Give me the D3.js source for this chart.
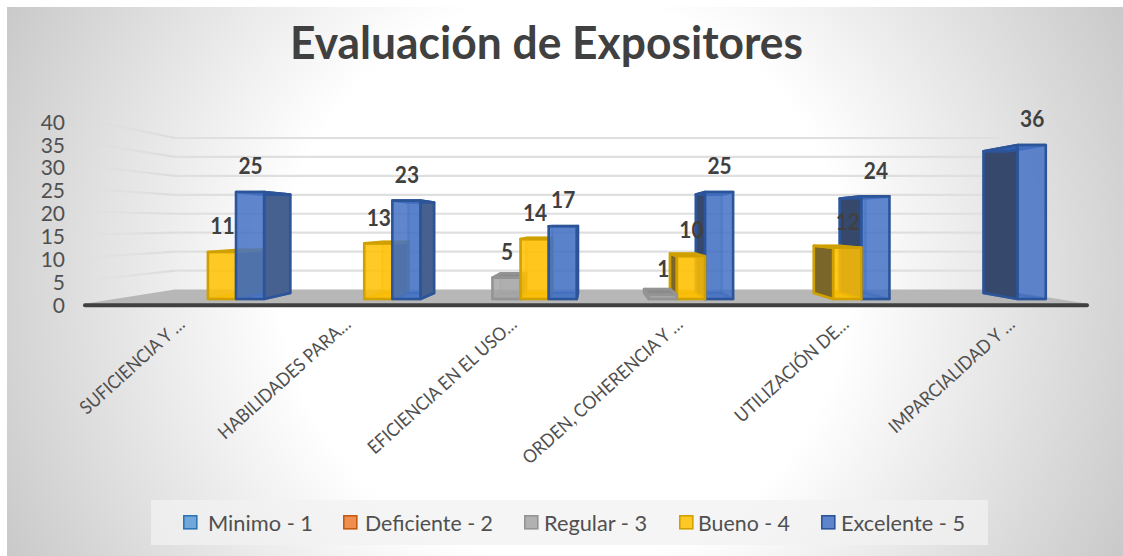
<!DOCTYPE html>
<html><head><meta charset="utf-8">
<script src="https://cdn.jsdelivr.net/npm/d3@7"></script>
<style>html,body{margin:0;padding:0;background:#fff;overflow:hidden}svg{display:block}text{font-family:Lato,"Open Sans",sans-serif}</style>
</head><body><svg id="c" width="1123" height="556"></svg>
<script>
const categories=["SUFICIENCIA Y …","HABILIDADES PARA…","EFICIENCIA EN EL USO…","ORDEN, COHERENCIA Y …","UTILIZACIÓN DE…","IMPARCIALIDAD Y …"];
const seriesNames=["Minimo - 1","Deficiente - 2","Regular - 3","Bueno - 4","Excelente - 5"];
const minimo=[null,null,null,null,null,null];
const deficiente=[null,null,null,null,null,null];
const regular=[null,null,5,1,null,null];
const bueno=[11,13,14,10,12,null];
const excelente=[25,23,17,25,24,36];
const seriesValues=[minimo,deficiente,regular,bueno,excelente];
const valueTicks=[0,5,10,15,20,25,30,35,40];
const fills=["#5b9bd5","#ed7d31","#a5a5a5","#ffc000","#4472c4"];
const edges=["#2e75b6","#c55a11","#949494","#d0a000","#2c5499"];
const tops=["#5b9bd5","#ed7d31","#8a8a8a","#d9a300","#2f5fb0"];
const leftFaces=["#2f5f8f","#8f4a1c","#777","#7a6628","#36486c"];
const rightFaces=["#2f5f8f","#8f4a1c","#777","#8f7420","#46608f"];
const legendX=[183,343,524,679,821];
const legendTextX=[208,365,544,698,841];
const legendTextW=[105,128,103,92,124];

const svg=d3.select("#c");
const defs=svg.append("defs");
const bg=defs.append("radialGradient").attr("id","bg").attr("gradientUnits","userSpaceOnUse")
  .attr("cx",565).attr("cy",280).attr("r",630);
bg.append("stop").attr("offset","0.45").attr("stop-color","#ffffff");
bg.append("stop").attr("offset","1").attr("stop-color","#c8c8c8");
const fade=defs.append("linearGradient").attr("id","fade").attr("gradientUnits","userSpaceOnUse")
  .attr("x1",83).attr("x2",175).attr("y1",0).attr("y2",0);
fade.append("stop").attr("offset","0").attr("stop-color","#d9d9d9").attr("stop-opacity",0);
fade.append("stop").attr("offset","1").attr("stop-color","#dcdcdc").attr("stop-opacity",1);

svg.append("rect").attr("x",7).attr("y",7).attr("width",1116).attr("height",549).attr("fill","url(#bg)");

// perspective model
const VP=[591,224], S_BACK=0.819, S_BAR=0.9375, S_BARBACK=0.8625;
const xBand=d3.scaleBand().domain(categories).range([83.5,1084]);
const xInner=d3.scaleBand().domain(seriesNames).range([8.85,158.85]);
const y=d3.scaleLinear().domain([0,40]).range([304,119]);
const yBar=d3.scaleLinear().domain([0,40]).range([304,121.5]);
const yTick=d3.scaleLinear().domain([0,40]).range([305.5,122.5]);
const project=(wx,py,s)=>[VP[0]+s*(wx-VP[0]),VP[1]+s*(py-VP[1])];
const poly=d3.line();
const closed=p=>poly(p)+"Z";

// floor
const floorL=83, floorR=1089;
svg.append("path").attr("fill","#b7b7b7").attr("d",closed([project(floorL,y(0),1),project(floorL,y(0),S_BACK),project(floorR,y(0),S_BACK),project(floorR,y(0),1)]));
// gridlines
valueTicks.filter(v=>v>0).forEach(v=>{
  const a=project(floorL,y(v),1),b=project(floorL,y(v),S_BACK),c=project(floorR,y(v),S_BACK);
  svg.append("path").attr("fill","none").attr("stroke","url(#fade)").attr("stroke-width",2.2).attr("d",poly([a,b]));
  svg.append("path").attr("fill","none").attr("stroke","#dfdfdf").attr("stroke-width",2.2).attr("d",poly([b,c]));
});
// axis line
svg.append("line").attr("x1",85).attr("x2",1087).attr("y1",305.3).attr("y2",305.3)
  .attr("stroke","#404040").attr("stroke-width",4).attr("stroke-linecap","round");

// bars
const barsG=svg.append("g");
const labels=[];
categories.forEach((cat,ci)=>{
  const center=xBand(cat)+xBand.bandwidth()/2;
  let idx=d3.range(seriesNames.length);
  if(center>VP[0]) idx=idx.reverse();
  idx.forEach(si=>{
    const v=seriesValues[si][ci];
    if(v==null) return;
    const x0=xBand(cat)+xInner(seriesNames[si]), x1=x0+xInner.bandwidth();
    const g=barsG.append("g").attr("stroke",edges[si]).attr("stroke-width",2.6).attr("stroke-linejoin","round");
    const yT=yBar(v), yB=yBar(0);
    const f=[project(x0,yB,S_BAR),project(x0,yT,S_BAR),project(x1,yT,S_BAR),project(x1,yB,S_BAR)];
    const b=[project(x0,yB,S_BARBACK),project(x0,yT,S_BARBACK),project(x1,yT,S_BARBACK),project(x1,yB,S_BARBACK)];
    // back and floor faces, seen through the front
    g.append("path").attr("d",closed(b)).attr("fill",fills[si]).attr("fill-opacity",0.25).attr("stroke-opacity",0.35);
    g.append("path").attr("d",closed([f[0],b[0],b[3],f[3]])).attr("fill",fills[si]).attr("fill-opacity",0.5).attr("stroke-opacity",0.6);
    // visible side
    if(f[3][0]<VP[0]){
      g.append("path").attr("d",closed([f[3],f[2],b[2],b[3]])).attr("fill",rightFaces[si]);
    }
    if(f[0][0]>VP[0]){
      g.append("path").attr("d",closed([f[0],f[1],b[1],b[0]])).attr("fill",leftFaces[si]);
    }
    // top
    g.append("path").attr("d",closed([f[1],b[1],b[2],f[2]])).attr("fill",tops[si]);
    // front
    g.append("path").attr("d",closed(f)).attr("fill",fills[si]).attr("fill-opacity",0.85);
    labels.push({t:v,x:(f[1][0]+f[2][0])/2+0.5,y:f[1][1]-26});
  });
});

// data labels
svg.append("g").selectAll("text").data(labels).join("text")
  .attr("transform",d=>`translate(${d.x},${d.y}) scale(0.95,1)`).attr("text-anchor","middle").attr("dominant-baseline","central")
  .attr("font-size",22).attr("font-weight",700).attr("fill","#404040").text(d=>d.t);

// value axis labels
const yAxis=d3.axisLeft(yTick).tickValues(valueTicks).tickSize(0).tickPadding(0);
const ya=svg.append("g").attr("transform","translate(65,0)").call(yAxis);
ya.select(".domain").remove();
ya.selectAll("text").attr("font-size",21).attr("fill","#505050").style("font-family","Lato");

// category labels
const xLabel=d3.scaleBand().domain(categories).range([85,1081]);
const xa=svg.append("g").attr("transform","translate(18,0)");
categories.forEach(cat=>{
  xa.append("text").attr("text-anchor","end")
    .attr("transform",`translate(${xLabel(cat)+xLabel.bandwidth()/2},${326}) rotate(-42) scale(0.925,1)`)
    .attr("font-size",18.5).attr("fill","#505050").text(cat);
});

// title
svg.append("text").attr("x",546.5).attr("y",59).attr("text-anchor","middle")
  .attr("font-size",46).attr("font-weight",700).attr("fill","#404040")
  .attr("textLength",513).attr("lengthAdjust","spacingAndGlyphs").text("Evaluación de Expositores");

// legend
svg.append("rect").attr("x",151).attr("y",500).attr("width",837).attr("height",45).attr("fill","#f2f2f2").attr("fill-opacity",0.75);
const lg=svg.append("g").selectAll("g").data(seriesNames).join("g");
lg.append("rect").attr("x",(d,i)=>legendX[i]+0.8).attr("y",515.8).attr("width",13).attr("height",13)
  .attr("fill",(d,i)=>fills[i]).attr("fill-opacity",0.85).attr("stroke",(d,i)=>edges[i]).attr("stroke-width",1.6);
lg.append("text").attr("x",(d,i)=>legendTextX[i]).attr("y",522).attr("dominant-baseline","central")
  .attr("font-size",22).attr("fill","#505050")
  .attr("textLength",(d,i)=>legendTextW[i]).attr("lengthAdjust","spacingAndGlyphs").text(d=>d);
</script></body></html>
